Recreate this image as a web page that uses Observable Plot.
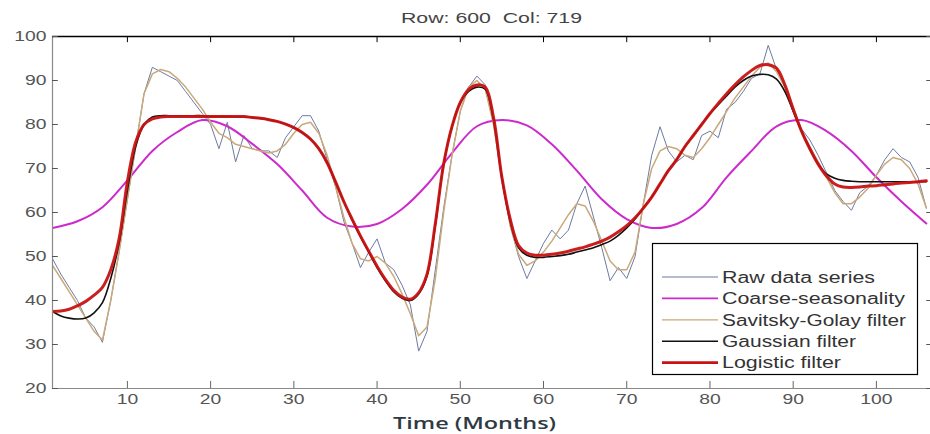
<!DOCTYPE html>
<html><head><meta charset="utf-8">
<script src="https://cdn.jsdelivr.net/npm/d3@7"></script>
<script src="https://cdn.jsdelivr.net/npm/@observablehq/plot@0.6"></script>
<style>
body{margin:0;background:#fff;}
#chart{position:relative;width:930px;height:434px;overflow:hidden;}
</style></head><body><div id="chart"></div>
<script>
// ---- data ----
const months = d3.range(1, 107);
const rawSeries = [49.5,46,43,40,36,34,30.5,40,51,63,75,87,93,92,91,90,87.5,85,82.5,80,
  74.5,80.5,71.5,77.5,74.5,74,74,72.5,77,79.5,82,82,78.5,72,66,58,53,47.5,51,54,
  48.5,47,43.5,39,28.5,33,47,61,73,83,88.5,91,89,80,67,57,50,45,49,53,
  56,54,56,62,66,59,52,44.5,47.5,45,50,62,73,79.5,74,71.5,73,72,77.5,78.5,
  77,83.5,85,87.5,90.5,91.5,98,92.5,89,84,79,76.5,73,69,65,62.5,60.5,64.5,66,68.5,
  72,74.5,72.5,71.5,68,61];
const seasonMonths = [1,4,7,10,13,16,19,22,25,28,31,34,37,40,43,46,49,52,55,58,61,64,67,70,73,76,79,82,85,88,91,94,97,100,103,106];
const seasonValues = [56.5,58,61.2,67.3,74,78.3,81,79.6,75.6,71,65,58.8,56.8,57.4,60.8,66.3,73.5,79.6,81,79.8,75.5,69.5,63,58.5,56.5,57.4,61,68,74,79.6,81,78.5,74,68,62.5,57.5];
const sgSeries = [48,45,42,39,36,33,31,40,51,63,75,87,91.5,92.5,92,90.5,88.5,86,83.5,80.5,
  78,77,75.5,75,74.5,74,73.5,74,75.5,78,80,80.5,78,73,66,59,53,49.5,49,50,
  48.5,45.5,41.5,37,32,34,45,60,73,83,88.5,90,88,80,68,57,50.5,48,49,51,
  53.5,56.5,59.5,62,61.5,58,53.5,49,47,47,51,62,70,74,75,74.5,73,72.5,74.5,77,
  80,83,86,88.5,91,93,94,92,88.5,83,78.5,75,71.5,68,64.5,62,62,63.5,65.5,68.5,
  71,72.5,72,70,66.5,61];
const gaussSeries = [37.5,36.5,36,35.8,36,37.2,39.5,45,53,65,75,80,81.7,82,82,82,82,82,82,81.8,
  81.8,81.8,81.7,81.7,81.6,81.4,81.1,80.7,80.1,79.3,78.2,76.7,74.5,71.3,67,62.5,58.3,54.5,51,47.5,
  44.5,42,40.5,40,41.5,45.5,57,71,79.5,85,87.5,88.5,88,81,68,58,52,50.3,49.8,49.8,
  50,50.2,50.5,51,51.5,52,52.7,53.5,54.8,56.5,58.5,61,63.5,66.5,69.5,72,75,77.5,80,82.5,
  84.5,86.5,88.5,90,91,91.4,91.3,90.3,87.5,83,78.5,74.5,71,68.8,67.8,67.3,67.1,67,67,67,
  67,67,67,67,67,67];
const logisticSeries = [37.5,37.6,38,38.8,39.8,41.2,43,47,54,67,76,80,81.3,81.7,81.8,81.8,81.8,81.8,81.8,81.8,
  81.8,81.8,81.8,81.8,81.6,81.4,81.1,80.7,80.1,79.3,78.2,76.7,74.5,71.3,67,62.5,58.5,54.7,51.2,47.8,
  44.8,42.3,40.8,40.3,41.8,46,57.5,71,79.5,85,88,89,88.5,81.5,68,58.5,52.5,50.8,50.3,50.3,
  50.5,50.8,51.2,51.7,52.2,52.8,53.5,54.4,55.6,57,58.8,61,63.5,66.5,69.5,72,75,77.5,80,82.5,
  84.8,87,89,90.8,92.3,93.4,93.6,92.8,89,83.5,78.5,74.5,71,68.3,66.5,65.8,65.7,65.8,66,66.1,
  66.3,66.5,66.7,66.8,67,67.2];
const xTicks = [10,20,30,40,50,60,70,80,90,100];
const yTicks = [20,30,40,50,60,70,80,90,100];
const seriesNames = ["Raw data series","Coarse-seasonality","Savitsky-Golay filter","Gaussian filter","Logistic filter"];
const seriesColors = ["#6d7ba0","#cc2acc","#c9a97c","#111111","#c81212"];
const seriesWidths = [1,2,1.5,1.6,3];
const titleText = "Row: 600  Col: 719";
const xLabelText = "Time (Months)";

// ---- tables ----
const rawT = months.map((m,i)=>({month:m, value:rawSeries[i]}));
const seasT = seasonMonths.map((m,i)=>({month:m, value:seasonValues[i]}));
const sgT = months.map((m,i)=>({month:m, value:sgSeries[i]}));
const gaT = months.map((m,i)=>({month:m, value:gaussSeries[i]}));
const loT = months.map((m,i)=>({month:m, value:logisticSeries[i]}));

const xMin = 1, xMax = 106.5, yMin = 20, yMax = 100;
const font = "'Liberation Sans', Arial, sans-serif";

const chart = Plot.plot({
  width: 930, height: 434,
  marginTop: 36, marginBottom: 46, marginLeft: 52, marginRight: 0,
  style: {fontFamily: font, background: "#fff"},
  x: {domain: [xMin, xMax]},
  y: {domain: [yMin, yMax]},
  marks: [
    Plot.line(rawT, {x:"month", y:"value", stroke: seriesColors[0], strokeWidth: seriesWidths[0], clip: true}),
    Plot.line(seasT, {x:"month", y:"value", stroke: seriesColors[1], strokeWidth: seriesWidths[1], curve:"catmull-rom", clip: true}),
    Plot.line(sgT, {x:"month", y:"value", stroke: seriesColors[2], strokeWidth: seriesWidths[2], clip: true}),
    Plot.line(gaT, {x:"month", y:"value", stroke: seriesColors[3], strokeWidth: seriesWidths[3], curve:"catmull-rom", clip: true}),
    Plot.line(loT, {x:"month", y:"value", stroke: seriesColors[4], strokeWidth: seriesWidths[4], curve:"catmull-rom", clip: true, strokeOpacity: 0.95}),
    // box
    Plot.ruleY([yMin], {stroke:"#8a8a8a", strokeWidth: 1.2}),
    Plot.ruleX([xMin], {stroke:"#8a8a8a", strokeWidth: 1.2}),
    Plot.ruleY([yMax], {stroke:"#000", strokeWidth: 1.6}),
    // inward ticks
    Plot.ruleX(xTicks, {x: d=>d, y1: yMin, y2: yMin + 1.6, stroke:"#666"}),
    Plot.ruleX(xTicks, {x: d=>d, y1: yMax, y2: yMax - 1.4, stroke:"#000"}),
    Plot.ruleY(yTicks, {y: d=>d, x1: xMin, x2: xMin + 0.7, stroke:"#555"}),
    Plot.ruleY(yTicks, {y: d=>d, x1: xMax, x2: xMax - 0.45, stroke:"#555"}),
    Plot.axisX(xTicks, {tickSize: 0, tickPadding: 6, fontSize: 14, fill: "#555", label: null}),
    Plot.axisY(yTicks, {tickSize: 0, tickPadding: 6, fontSize: 14, fill: "#555", label: null}),
    Plot.text([titleText], {frameAnchor: "top", dy: -23, fontSize: 14, fill: "#444", className: "ttl"}),
    Plot.text([xLabelText], {frameAnchor: "bottom", dx: -17, dy: 40, fontSize: 17, fontWeight: 600, fill: "#2e3a44", fontFamily: "'Open Sans', sans-serif", className: "xlab"})
  ]
});
document.getElementById("chart").appendChild(chart);

// horizontal stretch of texts (the reference is horizontally stretched)
const svg = d3.select(chart);
svg.selectAll("[aria-label='x-axis tick label'] text, [aria-label='y-axis tick label'] text").each(function(){
  const w = this.getComputedTextLength();
  this.setAttribute("textLength", (w*1.38).toFixed(1));
  this.setAttribute("lengthAdjust", "spacingAndGlyphs");
});
svg.selectAll(".ttl text").each(function(){ this.setAttribute("textLength", 181); this.setAttribute("lengthAdjust","spacingAndGlyphs"); });
svg.selectAll(".xlab text").each(function(){ this.setAttribute("textLength", 163); this.setAttribute("lengthAdjust","spacingAndGlyphs"); });

// legend
const legendWidths = [153, 183, 184, 134, 119];
const lg = svg.append("g").attr("font-family", font).attr("text-anchor", "start");
lg.append("rect").attr("x", 652.5).attr("y", 243.5).attr("width", 265).attr("height", 131)
  .attr("fill", "#fff").attr("stroke", "#000").attr("stroke-width", 1.2);
seriesNames.forEach((name, i) => {
  const cy = 277 + i * 21.4;
  lg.append("line").attr("x1", 662).attr("x2", 718).attr("y1", cy).attr("y2", cy)
    .attr("stroke", seriesColors[i]).attr("stroke-width", Math.max(1.2, seriesWidths[i]*0.85));
  lg.append("text").attr("x", 722).attr("y", cy).attr("dy", "0.36em")
    .attr("text-anchor", "start")
    .attr("font-size", 16).attr("fill", "#333")
    .attr("textLength", legendWidths[i]).attr("lengthAdjust", "spacingAndGlyphs")
    .text(name);
});
</script></body></html>
